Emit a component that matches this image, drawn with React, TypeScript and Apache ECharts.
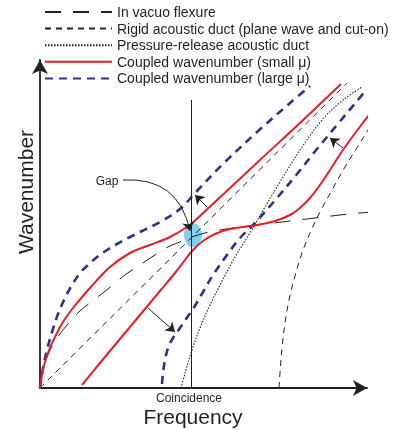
import React, { useEffect, useRef } from "react";
import * as echarts from "echarts";

// Schematic values: x = frequency, y = wavenumber (arbitrary units)
const inVacuoFlexure = [
  [0, 0], [2, 14], [5, 26], [10, 38], [17, 50], [27, 63], [40, 77], [55, 89], [68, 99],
  [85, 113], [100, 123], [115, 133], [130, 142], [145, 148], [152, 151], [165, 155],
  [180, 158], [200, 161], [225, 164], [250, 167], [275, 170], [300, 173], [320, 175], [345, 177],
];
const rigidPlaneWave = [[0, 0], [307, 305]];
const rigidCutOn = [
  [239, 0], [240, 15], [242, 40], [245, 65], [249, 88], [255, 112], [262, 135], [270, 155],
  [280, 176], [292, 198], [305, 221], [318, 242], [330, 261], [342, 279],
];
const pressureRelease = [
  [141, 0], [146, 18], [152, 38], [160, 60], [170, 83], [180, 103], [195, 131], [210, 155],
  [225, 181], [240, 206], [260, 238], [282, 268], [303, 288], [322, 301],
];
const smallMuUpper = [
  [0, 0], [2, 13], [5, 26], [10, 40], [16, 53], [23, 66], [33, 80], [50, 100], [70, 121],
  [90, 135], [110, 143], [130, 151], [150, 163], [160, 172], [190, 200], [220, 228],
  [260, 265], [301, 304],
];
const smallMuLower = [
  [42, 3], [60, 25], [80, 49], [100, 73], [120, 97], [135, 115], [145, 128], [153, 138],
  [163, 147], [175, 154], [190, 159], [217, 163], [235, 167], [250, 173], [260, 180],
  [270, 190], [280, 203], [290, 218], [303, 238], [322, 264], [342, 289],
];
const largeMuUpper = [
  [0, 0], [3, 20], [7, 38], [12, 56], [18, 74], [25, 90], [32, 103], [40, 115], [48, 123],
  [57, 131], [67, 138], [77, 144], [90, 151], [100, 156], [120, 166], [140, 179],
  [155, 195], [183, 224], [217, 256], [250, 285], [270, 302],
];
const largeMuLower = [
  [122, 4], [123, 15], [125, 28], [128, 40], [133, 50], [140, 60], [146, 69], [153, 79],
  [163, 96], [173, 113], [187, 133], [200, 150], [215, 165], [237, 190], [257, 214],
  [277, 239], [297, 263], [317, 287], [327, 299],
];
const coincidenceLine = [[151.5, 0], [151.5, 288]];
const gapPoint = [[153, 153]];
// arrows: [from, to]
const shiftArrows = [
  [[167, 181], [155, 193]],
  [[108, 80], [135, 56]],
  [[303, 240], [290, 250]],
];
const gapArrow = [[83, 208], [150, 157]];

const legendNames = [
  "In vacuo flexure",
  "Rigid acoustic duct (plane wave and cut-on)",
  "Pressure-release acoustic duct",
  "Coupled wavenumber (small \u03bc)",
  "Coupled wavenumber (large \u03bc)",
];

const INK = "#231f20";
const RED = "#ed1c24";
const BLUE = "#2e3192";
const FONT = "Liberation Sans, Arial, Helvetica, sans-serif";

function curve(name: string, data: number[][], color: string, width: number, type: any, z: number) {
  return {
    type: "line",
    name,
    data,
    smooth: 0.35,
    symbol: "none",
    clip: false,
    silent: true,
    color,
    z,
    lineStyle: { color, width, type },
  };
}

export default function App() {
  const ref = useRef<HTMLDivElement>(null);
  useEffect(() => {
    const chart = echarts.init(ref.current!, null, { renderer: "svg" });
    const axisCommon = {
      type: "value",
      min: 0,
      axisLine: {
        show: true,
        symbol: ["none", "arrow"],
        symbolSize: [12, 14],
        lineStyle: { color: INK, width: 1.8 },
      },
      axisTick: { show: false },
      axisLabel: { show: false },
      splitLine: { show: false },
    };
    chart.setOption({
      animation: false,
      grid: { left: 40, top: 60, width: 327, height: 328 },
      xAxis: { ...axisCommon, max: 327 },
      yAxis: { ...axisCommon, max: 328 },
      legend: {
        data: legendNames,
        orient: "vertical",
        left: 44,
        top: 5,
        padding: 0,
        itemWidth: 67,
        itemHeight: 14,
        itemGap: 2.6,
        selectedMode: false,
        itemStyle: { opacity: 0 },
        textStyle: { fontFamily: FONT, fontSize: 14, color: INK },
      },
      series: [
        {
          type: "scatter",
          data: gapPoint,
          symbol: "circle",
          symbolSize: [18, 24],
          silent: true,
          z: 1,
          itemStyle: { color: "#5bc8ee" },
        },
        curve(legendNames[0], inVacuoFlexure, INK, 1, [16, 12], 2),
        curve(legendNames[1], rigidPlaneWave, INK, 1, [6, 5], 2),
        curve(legendNames[1], rigidCutOn, INK, 1, [6, 5], 2),
        curve(legendNames[2], pressureRelease, INK, 1.1, [1.5, 1.5], 2),
        curve(legendNames[3], smallMuUpper, RED, 2, "solid", 4),
        curve(legendNames[3], smallMuLower, RED, 2, "solid", 4),
        curve(legendNames[4], largeMuUpper, BLUE, 2.6, [8, 6], 3),
        curve(legendNames[4], largeMuLower, BLUE, 2.6, [8, 6], 3),
        {
          type: "line",
          data: coincidenceLine,
          symbol: "none",
          clip: false,
          silent: true,
          z: 5,
          lineStyle: { color: INK, width: 1 },
        },
        {
          type: "lines",
          coordinateSystem: "cartesian2d",
          silent: true,
          z: 6,
          symbol: ["none", "arrow"],
          symbolSize: 9,
          lineStyle: { color: INK, width: 1, opacity: 1 },
          data: shiftArrows.map((a) => ({ coords: a })),
        },
        {
          type: "lines",
          coordinateSystem: "cartesian2d",
          silent: true,
          z: 6,
          symbol: ["none", "arrow"],
          symbolSize: 9,
          lineStyle: { color: INK, width: 1, opacity: 1, curveness: 0.43 },
          data: [{ coords: gapArrow }],
        },
      ],
      graphic: [
        {
          type: "text",
          x: 107,
          y: 181,
          style: { text: "Gap", font: `12px ${FONT}`, fill: INK, textAlign: "center", textVerticalAlign: "middle" },
        },
        {
          type: "text",
          x: 189,
          y: 398,
          style: { text: "Coincidence", font: `12px ${FONT}`, fill: INK, textAlign: "center", textVerticalAlign: "middle" },
        },
        {
          type: "text",
          x: 193,
          y: 416,
          style: { text: "Frequency", font: `21px ${FONT}`, fill: INK, textAlign: "center", textVerticalAlign: "middle" },
        },
        {
          type: "text",
          x: 25,
          y: 192,
          rotation: Math.PI / 2,
          style: { text: "Wavenumber", font: `21px ${FONT}`, fill: INK, textAlign: "center", textVerticalAlign: "middle" },
        },
      ],
    });
    return () => chart.dispose();
  }, []);
  return <div ref={ref} style={{ position: "fixed", left: 0, top: 0, width: 399, height: 430 }} />;
}
